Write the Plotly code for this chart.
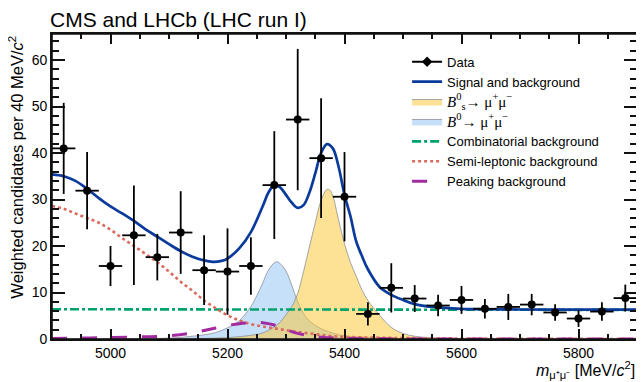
import plotly.graph_objects as go

# data points (bin centres, weighted candidates per 40 MeV, errors)
bin_mass = [4920, 4960, 5000, 5040, 5080, 5120, 5160, 5200, 5240, 5280, 5320, 5360, 5400,
            5440, 5480, 5520, 5560, 5600, 5640, 5680, 5720, 5760, 5800, 5840, 5880]
counts = [41.0, 31.9, 15.7, 22.3, 17.6, 22.9, 14.8, 14.5, 15.7, 33.1, 47.2, 38.9, 30.6,
          5.4, 11.0, 8.7, 7.2, 8.4, 6.5, 6.9, 7.4, 5.7, 4.4, 5.9, 8.8]
count_err = [9.8, 8.3, 4.3, 10.7, 5.0, 8.9, 7.5, 9.3, 6.2, 11.6, 15.2, 12.9, 9.6,
             2.5, 5.3, 2.9, 2.3, 3.0, 2.1, 2.8, 2.3, 1.8, 1.8, 2.0, 2.9]
bin_half = [20] * len(bin_mass)

# fitted curves
total_x = [4900, 4920, 4940, 4960, 4980, 5000, 5020, 5040, 5060, 5080, 5100, 5120, 5140, 5160,
           5175, 5190, 5200, 5220, 5240, 5260, 5270, 5280, 5290, 5300, 5310, 5320, 5330, 5340,
           5350, 5360, 5370, 5380, 5390, 5400, 5410, 5420, 5430, 5440, 5460, 5480, 5500, 5520,
           5550, 5600, 5650, 5700, 5800, 5900]
total_y = [35.4, 35.0, 34.0, 32.3, 30.3, 28.5, 27.0, 25.4, 23.6, 22.0, 20.4, 18.9, 17.7, 16.9,
           16.6, 16.8, 17.3, 19.5, 23.0, 28.5, 31.5, 33.1, 32.6, 31.0, 29.3, 28.2, 28.8, 31.5,
           35.6, 40.0, 41.9, 41.0, 37.0, 31.0, 26.5, 21.0, 17.8, 15.0, 11.2, 9.5, 8.4, 7.5,
           6.9, 6.5, 6.4, 6.35, 6.3, 6.3]

semi_x = [4900, 4920, 4940, 4960, 4980, 5000, 5020, 5040, 5060, 5080, 5100, 5120, 5140, 5160,
          5180, 5200, 5220, 5240, 5260, 5280, 5300, 5320, 5340, 5360, 5380, 5400, 5450, 5500,
          5600, 5700, 5900]
semi_y = [28.6, 28.0, 27.0, 26.0, 25.0, 23.5, 21.7, 20.0, 18.3, 16.5, 14.5, 12.3, 10.4, 8.3,
          6.6, 5.1, 4.0, 3.2, 2.7, 2.3, 1.9, 1.5, 1.2, 0.9, 0.6, 0.45, 0.3, 0.2,
          0.1, 0.05, 0.0]

peak_x = [4900, 4950, 5000, 5050, 5100, 5140, 5170, 5200, 5220, 5240, 5260, 5280, 5300, 5320,
          5340, 5360, 5400, 5450, 5500, 5900]
peak_y = [0.1, 0.2, 0.3, 0.45, 0.7, 1.3, 2.1, 2.9, 3.3, 3.5, 3.5, 3.0, 2.0, 1.2,
          0.7, 0.4, 0.15, 0.05, 0.02, 0.0]

comb_x = [4900, 5900]
comb_y = [6.4, 6.25]

b0_x = [4900, 5100, 5140, 5160, 5180, 5200, 5220, 5240, 5250, 5260, 5270, 5280, 5285, 5290,
        5300, 5310, 5320, 5330, 5340, 5360, 5380, 5400, 5450, 5500, 5550, 5900]
b0_y = [0.0, 0.2, 0.6, 0.9, 1.4, 2.4, 3.9, 7.0, 9.3, 12.0, 14.8, 16.4, 16.6, 16.2,
        14.6, 11.5, 8.0, 5.5, 3.9, 2.2, 1.3, 0.7, 0.3, 0.1, 0.0, 0.0]

bs_x = [4900, 5100, 5200, 5240, 5260, 5280, 5290, 5300, 5310, 5320, 5330, 5340, 5350, 5360,
        5370, 5375, 5380, 5390, 5400, 5410, 5420, 5430, 5440, 5450, 5460, 5480, 5500, 5520,
        5550, 5600, 5700, 5900]
bs_y = [0.0, 0.05, 0.3, 0.8, 1.3, 2.6, 3.6, 5.2, 7.0, 9.8, 14.5, 19.8, 25.0, 29.8,
        32.2, 32.0, 30.8, 25.5, 20.5, 16.5, 13.5, 10.5, 8.3, 6.6, 5.1, 2.5, 1.2, 0.6,
        0.25, 0.08, 0.02, 0.0]

FONT = "Liberation Sans, Arial, Helvetica, sans-serif"
SERIF = "Liberation Serif, Times New Roman, serif"
serif_span = "<span style='font-family:" + SERIF + ";font-size:15px'>"

fig = go.Figure()

# signal components (semi-transparent fills)
fig.add_trace(go.Scatter(x=b0_x, y=b0_y, mode="lines", line=dict(color="#8a8f96", width=0.8, shape="spline"),
                         fill="tozeroy", fillcolor="rgba(141,193,245,0.5)", legendrank=4,
                         name=serif_span + "<i>B</i><sup>0</sup>→ μ<sup>+</sup>μ<sup>−</sup></span>"))
fig.add_trace(go.Scatter(x=bs_x, y=bs_y, mode="lines", line=dict(color="#8a8f96", width=0.8, shape="spline"),
                         fill="tozeroy", fillcolor="rgba(251,197,45,0.5)", legendrank=3,
                         name=serif_span + "<i>B</i><sup>0</sup><sub>s</sub>→ μ<sup>+</sup>μ<sup>−</sup></span>"))

# backgrounds
fig.add_trace(go.Scatter(x=comb_x, y=comb_y, mode="lines", name="Combinatorial background", legendrank=5,
                         line=dict(color="#00a26b", width=2.6, dash="dashdot")))
fig.add_trace(go.Scatter(x=semi_x, y=semi_y, mode="lines", name="Semi-leptonic background", legendrank=6,
                         line=dict(color="#da6a60", width=2.6, dash="dot", shape="spline")))
fig.add_trace(go.Scatter(x=peak_x, y=peak_y, mode="lines", name="Peaking background", legendrank=7,
                         line=dict(color="#a22ba0", width=3, dash="longdash", shape="spline")))

# total fit
fig.add_trace(go.Scatter(x=total_x, y=total_y, mode="lines", name="Signal and background", legendrank=2,
                         line=dict(color="#0a3a9c", width=2.7, shape="spline")))

# data
fig.add_trace(go.Scatter(x=bin_mass, y=counts, mode="markers", showlegend=False,
                         marker=dict(color="black", size=8),
                         error_y=dict(type="data", array=count_err, color="black", thickness=1.8, width=0),
                         error_x=dict(type="data", array=bin_half, color="black", thickness=1.8, width=0)))
fig.add_trace(go.Scatter(x=[None], y=[None], mode="lines+markers", name="Data", legendrank=1,
                         line=dict(color="black", width=1.8), marker=dict(color="black", size=8, symbol="diamond")))

# page body has an 8px margin, so the figure is drawn 8px smaller
fig.update_layout(
    width=636, height=374,
    margin=dict(l=44, r=7, t=26, b=43),
    paper_bgcolor="white", plot_bgcolor="white",
    font=dict(family=FONT, size=14, color="black"),
    title=dict(text="CMS and LHCb (LHC run I)", x=0.066, xanchor="left", y=0.968, yanchor="middle",
               font=dict(size=21, color="black")),
    showlegend=True,
    legend=dict(x=0.607, y=0.958, xanchor="left", yanchor="top", bgcolor="rgba(0,0,0,0)",
                font=dict(size=13), itemwidth=30, tracegroupgap=0),
)

x_ticks = dict(range=[4900, 5900], tick0=5000, dtick=200, ticks="inside", ticklen=10, tickcolor="#111111",
               tickwidth=1.6, minor=dict(dtick=50, ticklen=5, ticks="inside", tickcolor="#111111", tickwidth=1.6),
               showline=True, linecolor="#111111", linewidth=1.6,
               showgrid=False, zeroline=False, tickfont=dict(size=14))
y_ticks = dict(range=[0, 65.6], tick0=0, dtick=10, ticks="inside", ticklen=13, tickcolor="#111111",
               tickwidth=1.6, minor=dict(dtick=2, ticklen=7, ticks="inside", tickcolor="#111111", tickwidth=1.6),
               showline=True, linecolor="#111111", linewidth=1.6,
               showgrid=False, zeroline=False, tickfont=dict(size=14))

fig.update_layout(
    xaxis=x_ticks,
    yaxis=y_ticks,
    # top and right frame ticks
    xaxis2=dict(x_ticks, overlaying="x", side="top", matches="x", showticklabels=False),
    yaxis2=dict(y_ticks, overlaying="y", side="right", matches="y", showticklabels=False),
)
# invisible trace so the top/right axes are drawn
fig.add_trace(go.Scatter(x=[None], y=[None], xaxis="x2", yaxis="y2", showlegend=False, hoverinfo="skip"))

# plot frame
fig.add_shape(type="rect", xref="paper", yref="paper", x0=0, y0=0, x1=1, y1=1,
              line=dict(color="#111111", width=1.6), layer="above")

fig.add_annotation(text="Weighted candidates per 40 MeV/<i>c</i><sup>2</sup>", textangle=-90,
                   xref="paper", yref="paper", x=-0.063, y=1.0, xanchor="center", yanchor="top",
                   showarrow=False, font=dict(size=16.5))
fig.add_annotation(text="<i>m</i><sub>μ⁺μ⁻</sub> [MeV/<i>c</i><sup>2</sup>]",
                   xref="paper", yref="paper", x=1.0, y=-0.1, xanchor="right", yanchor="middle",
                   showarrow=False, font=dict(size=16))

fig.write_html("out.html")
